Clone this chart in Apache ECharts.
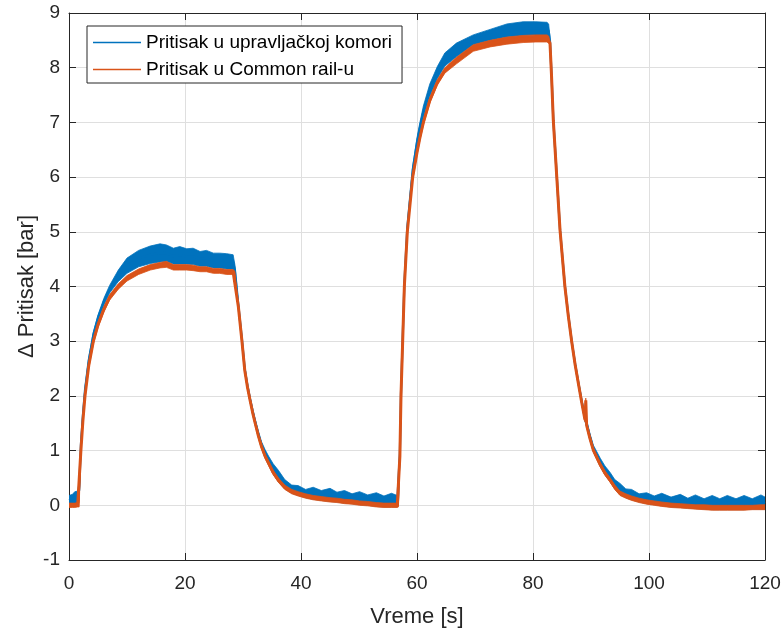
<!DOCTYPE html>
<html>
<head>
<meta charset="utf-8">
<script src="https://cdn.jsdelivr.net/npm/echarts@6/dist/echarts.min.js"></script>
<style>html,body{margin:0;padding:0;background:#fff}#c{width:783px;height:632px}</style>
</head>
<body>
<div id="c"></div>
<script>
// ---- data ----
const seriesNames = ['Pritisak u upravljačkoj komori', 'Pritisak u Common rail-u'];
const xTitle = 'Vreme [s]';
const yTitle = 'Δ Pritisak [bar]';
const xMin = 0, xMax = 120, xStep = 20;
const yMin = -1, yMax = 9, yStep = 1;

// time [s]
const t = [
  0.0,0.6,1.0,1.5,1.75,2.05,2.4,2.76,3.4,4.2,5.0,6.0,7.0,8.5,10.0,12.0,14.0,15.7,16.8,18.0,19.1,20.3,21.4,22.6,23.7,24.9,26.0,27.2,28.3,
  28.6,29.2,29.8,30.3,30.75,31.2,31.65,32.1,32.65,33.2,33.8,34.4,35.2,36.1,37.2,38.4,39.5,40.8,42.1,43.5,45.0,46.2,47.5,48.8,50.1,51.5,53.0,54.3,55.6,56.6,
  56.8,57.05,57.24,57.53,57.82,58.33,59.26,60.0,60.5,61.1,62.2,63.5,64.8,66.8,69.7,72.6,75.5,78.3,80.5,82.4,82.7,
  82.93,83.2,83.5,84.1,84.66,85.5,86.1,86.7,87.25,87.8,88.4,88.97,89.1,89.25,89.8,90.4,91.6,92.4,93.3,94.1,95.0,96.0,97.0,98.3,99.6,100.9,102.2,103.8,105.4,106.7,108.0,109.5,110.9,112.2,113.5,115.0,116.4,117.8,119.3,120];

// orange (Common rail) band: lower and upper edge [bar]
const orangeLo = [
  -0.04,-0.04,-0.04,-0.03,-0.03,0.95,1.50,1.95,2.50,2.95,3.25,3.53,3.75,3.95,4.10,4.22,4.30,4.34,4.35,4.30,4.30,4.30,4.29,4.27,4.27,4.24,4.24,4.22,4.22,
  4.20,3.59,2.98,2.43,2.13,1.89,1.66,1.46,1.23,1.03,0.86,0.73,0.56,0.42,0.29,0.21,0.17,0.13,0.10,0.08,0.06,0.05,0.03,0.02,0.00,-0.01,-0.03,-0.04,-0.04,-0.04,
  -0.03,0.85,1.95,2.95,3.95,4.95,5.95,6.40,6.67,6.95,7.35,7.68,7.90,8.07,8.30,8.38,8.43,8.46,8.47,8.47,8.45,
  8.41,7.80,7.00,5.96,4.99,3.96,3.41,2.93,2.54,2.20,1.84,1.52,1.88,1.42,1.19,0.97,0.70,0.55,0.42,0.29,0.18,0.13,0.09,0.05,0.02,0.00,-0.02,-0.04,-0.05,-0.06,-0.07,-0.08,-0.09,-0.09,-0.09,-0.09,-0.09,-0.08,-0.08,-0.08];
const orangeHi = [
  0.04,0.04,0.04,0.05,0.05,1.05,1.60,2.05,2.60,3.05,3.35,3.63,3.85,4.05,4.20,4.32,4.40,4.44,4.46,4.40,4.40,4.40,4.39,4.36,4.36,4.33,4.33,4.31,4.31,
  4.28,3.67,3.06,2.51,2.21,1.97,1.74,1.54,1.31,1.11,0.94,0.81,0.64,0.50,0.37,0.29,0.25,0.21,0.18,0.16,0.14,0.13,0.11,0.10,0.08,0.07,0.05,0.04,0.04,0.04,
  0.05,0.95,2.05,3.05,4.05,5.05,6.05,6.50,6.77,7.05,7.45,7.78,8.00,8.19,8.42,8.50,8.56,8.59,8.60,8.60,8.58,
  8.49,7.88,7.08,6.04,5.07,4.04,3.49,3.01,2.62,2.28,1.92,1.60,1.96,1.50,1.27,1.05,0.78,0.63,0.50,0.37,0.26,0.21,0.17,0.13,0.10,0.08,0.06,0.04,0.03,0.02,0.01,0.01,0.00,0.00,0.00,0.00,0.00,0.00,0.01,0.01];
// blue (control chamber) band: lower and upper edge [bar]
const blueLo = [
  0.00,0.02,0.04,0.04,0.10,1.00,1.58,2.05,2.60,3.07,3.38,3.66,3.88,4.09,4.24,4.36,4.42,4.45,4.46,4.41,4.41,4.41,4.40,4.37,4.37,4.34,4.34,4.32,4.32,
  4.22,3.60,3.00,2.44,2.14,1.90,1.67,1.47,1.24,1.04,0.87,0.74,0.57,0.43,0.30,0.22,0.18,0.14,0.11,0.09,0.07,0.06,0.04,0.03,0.01,0.00,-0.02,-0.03,-0.03,-0.03,
  0.00,0.90,2.00,3.00,4.00,5.02,6.06,6.55,6.82,7.10,7.48,7.80,8.03,8.20,8.42,8.50,8.56,8.59,8.60,8.60,8.55,
  8.43,7.82,7.02,5.98,5.00,3.97,3.42,2.94,2.55,2.21,1.85,1.53,1.48,1.43,1.20,0.98,0.71,0.56,0.43,0.30,0.19,0.14,0.10,0.06,0.03,0.01,-0.01,-0.03,-0.04,-0.05,-0.06,-0.07,-0.08,-0.08,-0.08,-0.08,-0.08,-0.07,-0.07,-0.07];
const blueHi = [
  0.18,0.20,0.25,0.26,0.45,1.20,1.72,2.17,2.70,3.17,3.48,3.78,4.02,4.30,4.52,4.66,4.74,4.78,4.76,4.70,4.73,4.69,4.70,4.64,4.66,4.61,4.61,4.60,4.58,
  4.40,3.72,3.10,2.55,2.25,2.00,1.78,1.58,1.36,1.16,1.02,0.90,0.76,0.64,0.47,0.37,0.36,0.29,0.33,0.27,0.31,0.24,0.27,0.21,0.25,0.19,0.23,0.17,0.22,0.18,
  0.12,1.00,2.10,3.10,4.10,5.14,6.20,6.72,7.00,7.30,7.70,8.02,8.27,8.45,8.60,8.70,8.80,8.84,8.84,8.83,8.80,
  8.55,7.90,7.10,6.06,5.08,4.05,3.51,3.02,2.64,2.30,1.95,1.63,1.60,1.56,1.32,1.10,0.86,0.72,0.60,0.47,0.40,0.30,0.29,0.21,0.23,0.17,0.22,0.15,0.20,0.13,0.19,0.12,0.18,0.12,0.18,0.12,0.18,0.12,0.19,0.15];

const BLUE = '#0072BD', ORANGE = '#D95319';
const FONT = 'Liberation Sans, Arial, sans-serif';
const AX = '#262626';

const mid = (a, b) => t.map((x, i) => [x, (a[i] + b[i]) / 2]);

// band between lower and upper edge, drawn through the axes' scales (api.coord)
function bandSeries(lo, hi, color, z) {
  return {
    type: 'custom', silent: true, z: z, clip: true,
    data: t.map((x, i) => [x, lo[i], hi[i]]),
    encode: { x: 0, y: [1, 2] },
    renderItem: function (params, api) {
      if (params.dataIndex !== 0) return null;
      const upper = t.map((x, i) => api.coord([x, hi[i]]));
      const lower = t.map((x, i) => api.coord([x, lo[i]])).reverse();
      return {
        type: 'polygon',
        shape: { points: upper.concat(lower) },
        style: { fill: color, stroke: color, lineWidth: 0.8 }
      };
    }
  };
}

const chart = echarts.init(document.getElementById('c'), null, { renderer: 'canvas' });
const baseAxis = {
  nameMoveOverlap: false,
  axisLine: { show: true, onZero: false, lineStyle: { color: AX, width: 1 } },
  axisTick: { show: true, inside: true, length: 7, lineStyle: { color: AX } },
};
chart.setOption({
  animation: false,
  backgroundColor: '#fff',
  textStyle: { fontFamily: FONT },
  grid: { left: 69, top: 13, right: 18, bottom: 72, containLabel: false, outerBoundsMode: 'none' },
  legend: {
    orient: 'vertical', left: 87, top: 26,
    data: [{ name: seriesNames[0], icon: 'rect' }, { name: seriesNames[1], icon: 'rect' }],
    itemWidth: 48, itemHeight: 1.5, itemGap: 8,
    padding: [7, 10, 4, 6],
    borderColor: AX, borderWidth: 1, backgroundColor: '#fff',
    textStyle: { fontFamily: FONT, fontSize: 19, color: '#000' },
    selectedMode: false
  },
  xAxis: [
    Object.assign({}, baseAxis, {
      type: 'value', min: xMin, max: xMax, interval: xStep, position: 'bottom',
      name: xTitle, nameLocation: 'middle', nameGap: 46,
      nameTextStyle: { fontFamily: FONT, fontSize: 22, color: AX },
      axisLabel: { fontFamily: FONT, fontSize: 19, color: AX, margin: 14 },
      splitLine: { show: true, lineStyle: { color: '#dfdfdf', width: 1 } }
    }),
    Object.assign({}, baseAxis, {
      type: 'value', min: xMin, max: xMax, interval: xStep, position: 'top',
      axisLabel: { show: false }, splitLine: { show: false }
    })
  ],
  yAxis: [
    Object.assign({}, baseAxis, {
      type: 'value', min: yMin, max: yMax, interval: yStep, position: 'left',
      name: yTitle, nameLocation: 'middle', nameGap: 31,
      nameTextStyle: { fontFamily: FONT, fontSize: 22, color: AX },
      axisLabel: { fontFamily: FONT, fontSize: 19, color: AX, margin: 9 },
      splitLine: { show: true, lineStyle: { color: '#dfdfdf', width: 1 } }
    }),
    Object.assign({}, baseAxis, {
      type: 'value', min: yMin, max: yMax, interval: yStep, position: 'right',
      axisLabel: { show: false }, splitLine: { show: false }
    })
  ],
  series: [
    bandSeries(blueLo, blueHi, BLUE, 2),
    { name: seriesNames[0], type: 'line', data: mid(blueLo, blueHi), symbol: 'none', showSymbol: false,
      color: BLUE, lineStyle: { color: BLUE, width: 2.2 }, z: 3 },
    bandSeries(orangeLo, orangeHi, ORANGE, 4),
    { name: seriesNames[1], type: 'line', data: mid(orangeLo, orangeHi), symbol: 'none', showSymbol: false,
      color: ORANGE, lineStyle: { color: ORANGE, width: 3 }, z: 5 }
  ]
});
</script>
</body>
</html>
